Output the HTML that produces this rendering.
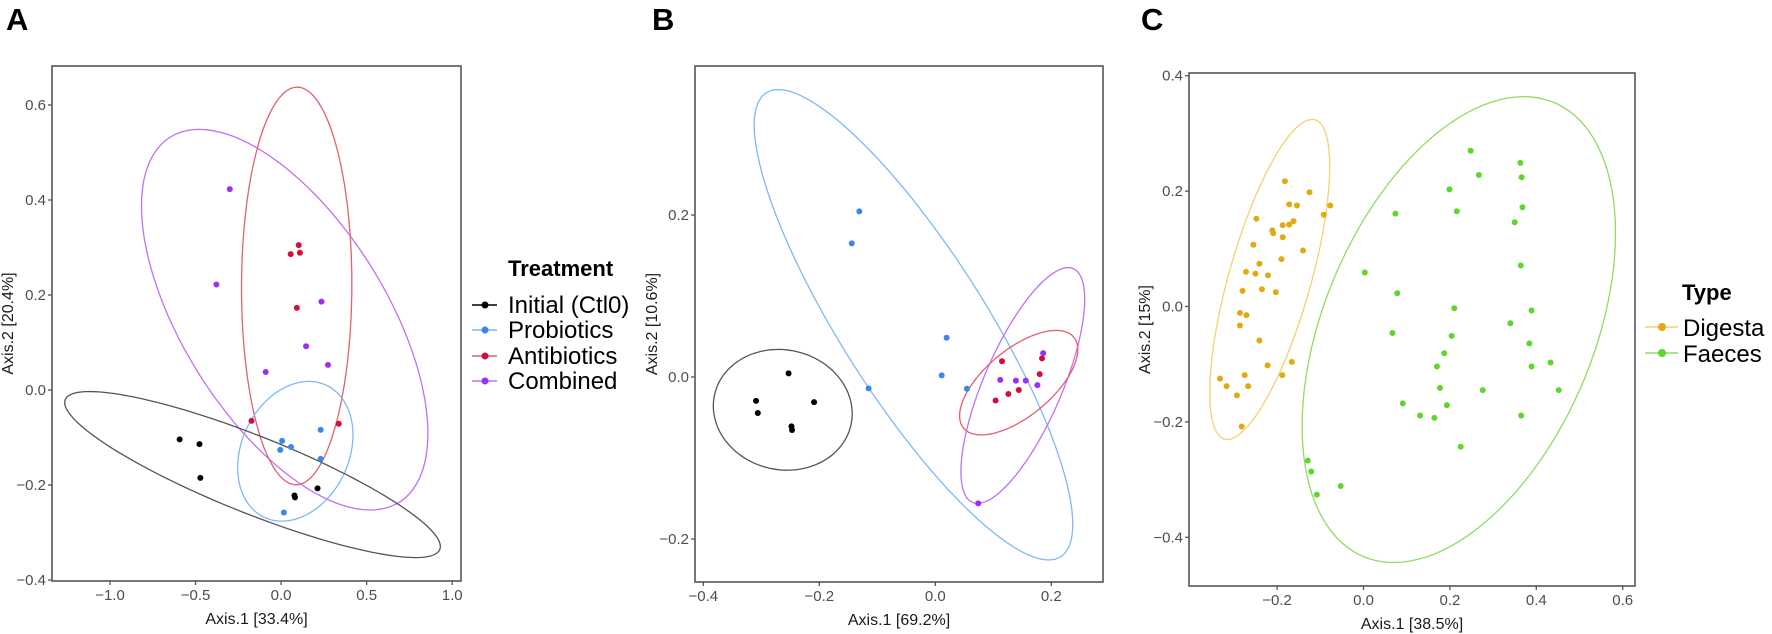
<!DOCTYPE html>
<html><head><meta charset="utf-8"><style>
html,body{margin:0;padding:0;background:#fff;}
svg{display:block;font-family:"Liberation Sans",Arial,sans-serif;}
.tick{font-size:15px;fill:#4d4d4d;}
.atitle{font-size:16px;fill:#1a1a1a;}
.plet{font-size:31px;font-weight:bold;fill:#000;}
.ltitle{font-size:22px;font-weight:bold;fill:#000;}
.lentry{font-size:24px;fill:#000;}
</style></head><body>
<svg id="fig" width="1772" height="634" viewBox="0 0 1772 634">
<text class="plet" x="6" y="30">A</text>
<text class="plet" x="652" y="30">B</text>
<text class="plet" x="1141" y="30">C</text>
<g id="pa"></g>
<g id="pb"></g>
<g id="pc"></g>
<g>
<text class="ltitle" x="508" y="276">Treatment</text>
<g><line x1="472" y1="305" x2="497" y2="305" stroke="#000" stroke-width="1.5"/><circle cx="485" cy="305" r="3.5" fill="#000"/><text class="lentry" x="508" y="313">Initial (Ctl0)</text></g>
<g><line x1="472" y1="330" x2="497" y2="330" stroke="#7fb8f5" stroke-width="1.5"/><circle cx="485" cy="330" r="3.5" fill="#3a86f0"/><text class="lentry" x="508" y="338">Probiotics</text></g>
<g><line x1="472" y1="356" x2="497" y2="356" stroke="#e06070" stroke-width="1.5"/><circle cx="485" cy="356" r="3.5" fill="#d0103a"/><text class="lentry" x="508" y="364">Antibiotics</text></g>
<g><line x1="472" y1="381" x2="497" y2="381" stroke="#c070f5" stroke-width="1.5"/><circle cx="485" cy="381" r="3.5" fill="#9a30f5"/><text class="lentry" x="508" y="389">Combined</text></g>
</g>
<g>
<text class="ltitle" x="1682" y="300">Type</text>
<g><line x1="1645" y1="327" x2="1678" y2="327" stroke="#f5d070" stroke-width="1.5"/><circle cx="1662" cy="327" r="4" fill="#e0aa10"/><text class="lentry" x="1683" y="336">Digesta</text></g>
<g><line x1="1645" y1="353" x2="1678" y2="353" stroke="#90dc60" stroke-width="1.5"/><circle cx="1662" cy="353" r="4" fill="#5ed62a"/><text class="lentry" x="1683" y="362">Faeces</text></g>
</g>
</svg>
<script>
// ===== Panel A data =====
const aXTicks = [-1.0, -0.5, 0.0, 0.5, 1.0];
const aYTicks = [-0.4, -0.2, 0.0, 0.2, 0.4, 0.6];
const aInitial = [[-0.593,-0.104],[-0.477,-0.114],[-0.472,-0.185],[0.078,-0.222],[0.081,-0.226],[0.213,-0.207]];
const aProbiotics = [[0.231,-0.084],[0.006,-0.107],[-0.005,-0.126],[0.058,-0.120],[0.231,-0.145],[0.016,-0.258]];
const aAntibiotics = [[0.103,0.305],[0.056,0.286],[0.110,0.289],[0.092,0.173],[-0.173,-0.065],[0.337,-0.071]];
const aCombined = [[-0.300,0.423],[-0.378,0.222],[0.236,0.186],[0.146,0.092],[0.274,0.053],[-0.090,0.038]];
// ellipses: [cx, cy, ux, uy, vx, vy] in data units
const aEllInitial = [-0.167,-0.178,1.098,-0.1515,0,0.0871];
const aEllProbiotics = [0.083,-0.129,0.337,0.0343,0,0.143];
const aEllAntibiotics = [0.091,0.219,0.3225,0.0044,0,0.4186];
const aEllCombined = [0.021,0.148,0.837,-0.2393,0,0.3214];
// ===== Panel B data =====
const bXTicks = [-0.4, -0.2, 0.0, 0.2];
const bYTicks = [-0.2, 0.0, 0.2];
const bInitial = [[-0.253,0.0045],[-0.309,-0.0295],[-0.306,-0.0445],[-0.209,-0.031],[-0.248,-0.061],[-0.247,-0.0655]];
const bProbiotics = [[-0.131,0.2045],[-0.144,0.165],[0.0195,0.0485],[0.011,0.002],[-0.115,-0.014],[0.0545,-0.0145]];
const bAntibiotics = [[0.115,0.0195],[0.126,-0.021],[0.104,-0.029],[0.144,-0.016],[0.180,0.0035],[0.184,0.023]];
const bCombined = [[0.112,-0.0035],[0.139,-0.0045],[0.156,-0.0045],[0.176,-0.010],[0.186,0.0295],[0.074,-0.156]];
const bEllInitial = [-0.263,-0.0405,0.1197,-0.0048,0,0.0744];
const bEllProbiotics = [-0.0376,0.0645,0.2746,-0.2465,0,0.1535];
const bEllAntibiotics = [0.1438,-0.007,0.1019,0.0409,0,0.0499];
const bEllCombined = [0.1509,-0.0105,0.1067,0.1064,0,0.0993];
// ===== Panel C data =====
const cXTicks = [-0.2, 0.0, 0.2, 0.4, 0.6];
const cYTicks = [-0.4, -0.2, 0.0, 0.2, 0.4];
const cDigesta = [[-0.182,0.217],[-0.125,0.198],[-0.172,0.177],[-0.154,0.175],[-0.077,0.175],[-0.092,0.159],[-0.248,0.152],[-0.162,0.148],[-0.172,0.142],[-0.187,0.141],[-0.211,0.132],[-0.209,0.127],[-0.187,0.120],[-0.255,0.107],[-0.140,0.097],[-0.190,0.082],[-0.241,0.074],[-0.272,0.060],[-0.250,0.057],[-0.221,0.054],[-0.235,0.030],[-0.280,0.027],[-0.203,0.025],[-0.286,-0.011],[-0.271,-0.015],[-0.286,-0.033],[-0.241,-0.059],[-0.222,-0.102],[-0.166,-0.096],[-0.188,-0.119],[-0.275,-0.119],[-0.332,-0.125],[-0.317,-0.138],[-0.267,-0.138],[-0.293,-0.154],[-0.282,-0.208]];
const cFaeces = [[0.003,0.059],[0.074,0.161],[0.078,0.023],[0.067,-0.046],[0.091,-0.168],[0.131,-0.189],[0.164,-0.193],[0.193,-0.171],[0.177,-0.141],[0.170,-0.104],[0.187,-0.081],[0.204,-0.051],[0.210,-0.003],[0.199,0.203],[0.216,0.165],[0.225,-0.243],[0.248,0.270],[-0.129,-0.267],[-0.121,-0.286],[-0.108,-0.326],[-0.053,-0.311],[0.363,0.249],[0.267,0.228],[0.366,0.224],[0.368,0.172],[0.350,0.146],[0.364,0.071],[0.389,-0.007],[0.340,-0.029],[0.384,-0.064],[0.433,-0.097],[0.389,-0.104],[0.276,-0.145],[0.452,-0.145],[0.365,-0.189]];
const cEllDigesta = [-0.217,0.047,0.1389,0.1958,0,0.1964];
const cEllFaeces = [0.2206,-0.040,0.3627,0.1674,0,0.3674];

const NS = 'http://www.w3.org/2000/svg';
function mk(parent, tag, attrs) {
  const e = document.createElementNS(NS, tag);
  for (const k in attrs) e.setAttribute(k, attrs[k]);
  parent.appendChild(e);
  return e;
}
function fmt(v) { return (v < 0 ? '\u2212' : '') + Math.abs(v).toFixed(1); }

function panel(g, box, sx, sy, xTicks, yTicks, xTitle, yTitle, yTitleX, key) {
  // box: [left, top, right, bottom]; sx, sy: axis functions
  const border = mk(g, 'rect', {x: box[0], y: box[1], width: box[2]-box[0], height: box[3]-box[1], fill: 'none', stroke: '#555', 'stroke-width': 1.6});
  
  
  xTicks.forEach(function (t) {
    const x = sx(t);
    const tk = mk(g, 'line', {x1: x, y1: box[3], x2: x, y2: box[3]+4, stroke: '#555', 'stroke-width': 1.3});
    
    
    const lb = mk(g, 'text', {x: x, y: box[3]+19, 'text-anchor': 'middle', class: 'tick'});
    lb.textContent = fmt(t);
    
    
  });
  yTicks.forEach(function (t) {
    const y = sy(t);
    const tk = mk(g, 'line', {x1: box[0]-4, y1: y, x2: box[0], y2: y, stroke: '#555', 'stroke-width': 1.3});
    
    
    const lb = mk(g, 'text', {x: box[0]-6, y: y+5, 'text-anchor': 'end', class: 'tick'});
    lb.textContent = fmt(t);
    
    
  });
  const xt = mk(g, 'text', {x: (box[0]+box[2])/2, y: box[3]+43, 'text-anchor': 'middle', class: 'atitle'});
  xt.textContent = xTitle;
  
  
  const cy = (box[1]+box[3])/2;
  const yt = mk(g, 'text', {x: yTitleX, y: cy, 'text-anchor': 'middle', class: 'atitle', transform: 'rotate(-90 ' + yTitleX + ' ' + cy + ')'});
  yt.textContent = yTitle;
  
  
}
function ellipse(g, sx, sy, e, color, name) {
  let d = '';
  for (let i = 0; i <= 120; i++) {
    const t = i / 120 * 2 * Math.PI;
    const x = e[0] + e[2]*Math.cos(t) + e[4]*Math.sin(t);
    const y = e[1] + e[3]*Math.cos(t) + e[5]*Math.sin(t);
    d += (i ? 'L' : 'M') + sx(x).toFixed(1) + ',' + sy(y).toFixed(1);
  }
  const p = mk(g, 'path', {d: d + 'Z', fill: 'none', stroke: color, 'stroke-width': 1.3});
  
  
}
function points(g, sx, sy, pts, color, name, r) {
  pts.forEach(function (p) {
    const c = mk(g, 'circle', {cx: sx(p[0]), cy: sy(p[1]), r: r || 3, fill: color});
    
    
  });
}

// Panel A
(function () {
  const g = document.getElementById('pa');
  const sx = v => 281.1 + 171.1 * v;
  const sy = v => 390 - 475 * v;
  panel(g, [52, 66, 461, 581], sx, sy, aXTicks, aYTicks, 'Axis.1 [33.4%]', 'Axis.2 [20.4%]', 13, 'panel-a');
  ellipse(g, sx, sy, aEllCombined, '#c070f5', 'ellipse-combined');
  ellipse(g, sx, sy, aEllAntibiotics, '#e06070', 'ellipse-antibiotics');
  ellipse(g, sx, sy, aEllProbiotics, '#7fb8f5', 'ellipse-probiotics');
  ellipse(g, sx, sy, aEllInitial, '#555', 'ellipse-initial');
  points(g, sx, sy, aCombined, '#9a30f5', 'point-combined');
  points(g, sx, sy, aAntibiotics, '#d0103a', 'point-antibiotics');
  points(g, sx, sy, aProbiotics, '#3a86f0', 'point-probiotics');
  points(g, sx, sy, aInitial, '#000', 'point-initial');
})();
// Panel B
(function () {
  const g = document.getElementById('pb');
  const sx = v => 935.3 + 580 * v;
  const sy = v => 377 - 810 * v;
  panel(g, [695, 66, 1103, 582], sx, sy, bXTicks, bYTicks, 'Axis.1 [69.2%]', 'Axis.2 [10.6%]', 657, 'panel-b');
  ellipse(g, sx, sy, bEllProbiotics, '#7fb8f5', 'ellipse-probiotics');
  ellipse(g, sx, sy, bEllCombined, '#c070f5', 'ellipse-combined');
  ellipse(g, sx, sy, bEllAntibiotics, '#e06070', 'ellipse-antibiotics');
  ellipse(g, sx, sy, bEllInitial, '#555', 'ellipse-initial');
  points(g, sx, sy, bProbiotics, '#3a86f0', 'point-probiotics');
  points(g, sx, sy, bAntibiotics, '#d0103a', 'point-antibiotics');
  points(g, sx, sy, bCombined, '#9a30f5', 'point-combined');
  points(g, sx, sy, bInitial, '#000', 'point-initial');
})();
// Panel C
(function () {
  const g = document.getElementById('pc');
  const sx = v => 1363.5 + 432 * v;
  const sy = v => 306.5 - 577 * v;
  panel(g, [1189, 73, 1635, 586], sx, sy, cXTicks, cYTicks, 'Axis.1 [38.5%]', 'Axis.2 [15%]', 1150, 'panel-c');
  ellipse(g, sx, sy, cEllDigesta, '#f5d070', 'ellipse-digesta');
  ellipse(g, sx, sy, cEllFaeces, '#90dc60', 'ellipse-faeces');
  points(g, sx, sy, cDigesta, '#e0aa10', 'point-digesta');
  points(g, sx, sy, cFaeces, '#5ed62a', 'point-faeces');
})();
</script>
</body></html>
